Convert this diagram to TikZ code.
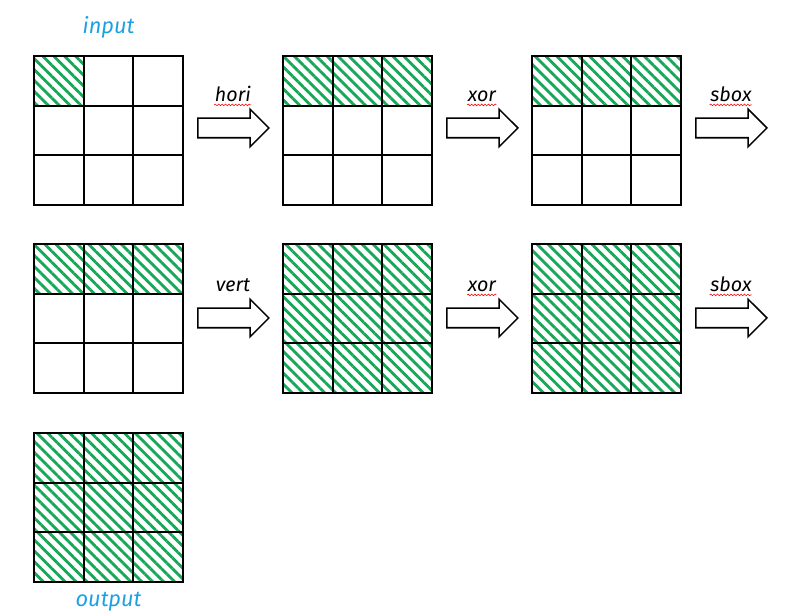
\documentclass[tikz,border=0pt]{standalone}
\usepackage{fontspec}
\setmainfont{Fira Sans}
\usepackage{xcolor}
\usetikzlibrary{calc,positioning,shapes.arrows,patterns.meta,decorations.pathmorphing}
\definecolor{hatchgreen}{RGB}{22,168,88}
\definecolor{labelblue}{RGB}{28,160,228}

\begin{document}
\begin{tikzpicture}[x=0.025cm, y=-0.025cm,
  cell/.style={rectangle,draw,line width=1.4pt,minimum size=1.242cm,inner sep=0pt},
  hcell/.style={cell,pattern={Lines[angle=-45,distance=5.5pt,line width=2pt]},pattern color=hatchgreen},
  op/.style={single arrow,draw,line width=1.1pt,minimum height=1.775cm,inner xsep=0pt,inner ysep=0.225cm,single arrow head extend=0.225cm},
  lbl/.style={font=\fontsize{14}{16}\selectfont\itshape,inner sep=1pt},
  io/.style={lbl,text=labelblue,font=\fontsize{15.5}{18}\selectfont\itshape},
  squiggle/.style={red,line width=0.4pt,decorate,decoration={snake,amplitude=0.6pt,segment length=2.4pt}}]
\useasboundingbox (0,0) rectangle (785,615);

% the seven 3x3 states, first \n cells hatched
\foreach \g/\gx/\gy/\n in {1/34/56/1, 2/283/56/3, 3/532/56/3, 4/34/244/3, 5/283/244/9, 6/532/244/9, 7/34/433/9} {
  \foreach \j in {0,1,2} {
    \foreach \i in {0,1,2} {
      \pgfmathtruncatemacro{\k}{3*\j+\i}
      \ifnum\k<\n \def\sty{hcell}\else \def\sty{cell}\fi
      \node[\sty] (g\g-\i-\j) at ({\gx+24.8+49.7*\i},{\gy+24.8+49.7*\j}) {};
    }
  }
}

\node[io] (in) [above=0.37cm of g1-1-0] {input};
\node[io] (out) [below=0.18cm of g7-1-2] {output};

% steps
\foreach \a/\x/\y/\t in {1/228.5/128/hori, 2/477.5/128/xor, 3/726.5/128/sbox, 4/228.5/318/vert, 5/477.5/318/xor, 6/726.5/318/sbox} {
  \node[op] (a\a) at (\x,\y) {};
  \node[lbl,xshift=0.11cm] (t\a) [above=0.34cm of a\a.north] {\t};
}

\foreach \a in {1,2,3,5,6}
  \draw[squiggle] ($(t\a.base west)+(1,3)$) -- ($(t\a.base east)+(-1,3)$);

\end{tikzpicture}
\end{document}
